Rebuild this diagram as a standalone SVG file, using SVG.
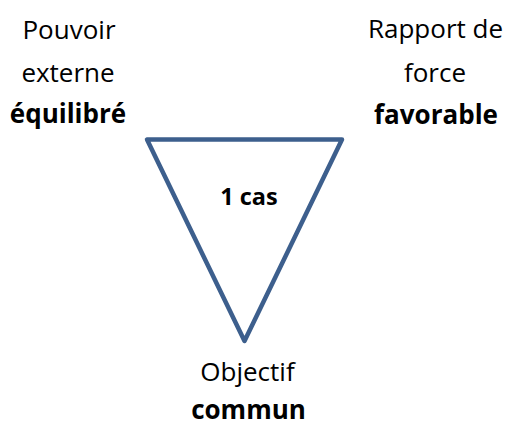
<svg xmlns="http://www.w3.org/2000/svg" width="510" height="426" viewBox="0 0 510 426">
<style>
text{font-family:"Open Sans","Liberation Sans",sans-serif;font-size:26px;fill:#000;text-anchor:middle}
.b{font-weight:bold}
.tri{fill:#fff;stroke:#3D5F8D;stroke-width:4.5;stroke-linejoin:round}
</style>
<rect width="510" height="426" fill="#fff"/>
<g id="triangle">
<polygon class="tri" points="147,139.5 342,139.5 244.5,341"/>
<text class="b" x="249" y="205" style="font-size:23.5px">1 cas</text>
</g>
<g id="pouvoir">
<text x="69" y="39">Pouvoir</text>
<text x="68" y="82">externe</text>
<text class="b" x="68" y="123">équilibré</text>
</g>
<g id="rapport">
<text x="435.5" y="38">Rapport de</text>
<text x="435" y="82">force</text>
<text class="b" x="436" y="124">favorable</text>
</g>
<g id="objectif">
<text x="247.5" y="381">Objectif</text>
<text class="b" x="248.5" y="419">commun</text>
</g>
<g id="connectors"></g>
</svg>
